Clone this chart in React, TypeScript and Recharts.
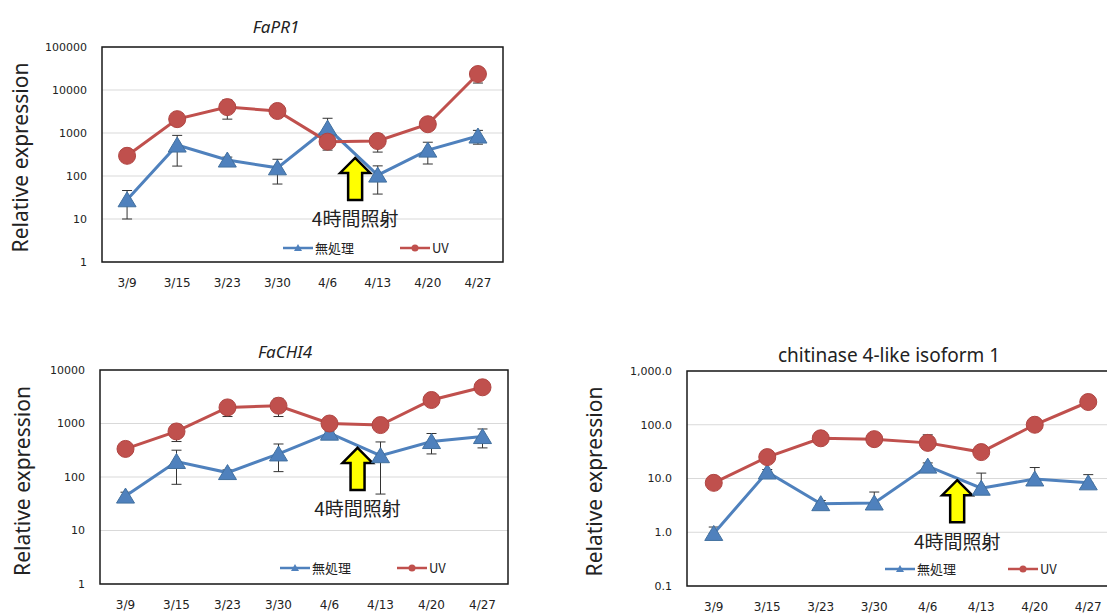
import React from 'react';
import { LineChart, Line, XAxis, YAxis, CartesianGrid, ErrorBar, ReferenceDot, ReferenceArea, Legend } from 'recharts';

const dates = ['3/9', '3/15', '3/23', '3/30', '4/6', '4/13', '4/20', '4/27'];
const seriesNames = ['無処理', 'UV'];

// FaPR1
const pr1Control = [28, 525, 235, 155, 1300, 105, 400, 850];
const pr1ControlSd = [18, 355, 40, 90, 900, 67, 210, 300];
const pr1Uv = [295, 2100, 4000, 3250, 630, 650, 1600, 23500];
const pr1UvSd = [60, 400, 1900, 950, 100, 290, 300, 9000];

// FaCHI4
const chi4Control = [44, 195, 121, 270, 660, 250, 460, 570];
const chi4ControlSd = [8, 122, 15, 144, 60, 202, 190, 220];
const chi4Uv = [335, 710, 2000, 2150, 1000, 935, 2750, 4750];
const chi4UvSd = [40, 250, 650, 800, 80, 60, 200, 300];

// chitinase 4-like isoform 1 (plus-only error bars)
const chitControl = [0.95, 13.2, 3.4, 3.5, 17, 6.6, 9.8, 8.3];
const chitControlSd = [0.3, 1.5, 0.5, 2.1, 2.5, 6, 6.2, 3.5];
const chitUv = [8.3, 25, 56, 54, 46, 31, 100, 265];
const chitUvSd = [1, 3, 8, 6, 19, 4, 10, 30];

const BLUE = '#4f81bd';
const RED = '#c0504d';
const INK = '#222';
const FONT = "'Noto Sans', 'Noto Sans CJK JP', sans-serif";
const CJK = "'Noto Sans CJK JP', 'Noto Sans', sans-serif";
const TICK_FONT = "'DejaVu Sans', sans-serif";

const lastIndex = dates.length - 1;
const xTicks = dates.map((_, i) => i);
// the arrow sits between 4/6 and 4/13
const arrowX = dates.indexOf('4/6') + 0.55;

const buildRows = (control: number[], controlSd: number[], uv: number[], uvSd: number[], plusOnly: boolean) =>
  dates.map((d, i) => ({
    idx: i,
    date: d,
    control: control[i],
    uv: uv[i],
    controlErr: plusOnly ? [0, controlSd[i]] : controlSd[i],
    uvErr: plusOnly ? [0, uvSd[i]] : uvSd[i],
  }));

const renderTriangle = (p: any) => {
  const { cx, cy, index } = p;
  if (cx == null || cy == null) return <g key={`t${index}`} />;
  return (
    <polygon
      key={`t${index}`}
      points={`${cx},${cy - 8} ${cx + 9},${cy + 7} ${cx - 9},${cy + 7}`}
      fill={BLUE}
      stroke="#42709f"
      strokeWidth={1}
    />
  );
};

const ArrowMark = ({ cx, cy }: { cx: number; cy: number }) => (
  <g>
    <polygon
      points={`${cx},${cy} ${cx + 15},${cy + 15} ${cx + 7},${cy + 15} ${cx + 7},${cy + 42} ${cx - 7},${cy + 42} ${cx - 7},${cy + 15} ${cx - 15},${cy + 15}`}
      fill="#ffff00"
      stroke="#000"
      strokeWidth={2.5}
    />
    <text x={cx} y={cy + 60} textAnchor="middle" dominantBaseline="central" fontSize={19} fontFamily={CJK} fill={INK}>
      4時間照射
    </text>
  </g>
);

const LegendBox = ({ payload, gap }: { payload?: any[]; gap: number }) => {
  const items = [...(payload || [])].sort((a, b) => seriesNames.indexOf(a.value) - seriesNames.indexOf(b.value));
  return (
    <div style={{ display: 'flex', alignItems: 'center', fontFamily: CJK, fontSize: 13, color: INK, whiteSpace: 'nowrap' }}>
      {items.map((item, i) => {
        const isControl = item.value === seriesNames[0];
        return (
          <div key={item.value} style={{ display: 'flex', alignItems: 'center', marginRight: i === 0 ? gap : 0 }}>
            <svg width={30} height={12}>
              <line x1={0} x2={30} y1={6} y2={6} stroke={isControl ? BLUE : RED} strokeWidth={2.5} />
              {isControl ? <polygon points="15,2 19,9 11,9" fill={BLUE} /> : <circle cx={15} cy={6} r={3.5} fill={RED} />}
            </svg>
            <span style={{ marginLeft: 2 }}>{item.value}</span>
          </div>
        );
      })}
    </div>
  );
};

type Panel = {
  title: string;
  italic: boolean;
  titleSize: number;
  left: number;
  top: number;
  width: number;
  height: number;
  plotLeft: number;
  plotRight: number;
  plotTop: number;
  plotBottom: number;
  xAxisHeight: number;
  titleX: number;
  titleY: number;
  rows: any[];
  yDomain: [number, number];
  yTicks: number[];
  yFormat: (v: number) => string;
  yTitleX: number;
  yTitleDy: number;
  arrowValue: number;
  legendLeft: number;
  legendTop: number;
  legendGap: number;
};

const panels: Panel[] = [
  {
    title: 'FaPR1',
    italic: true,
    titleSize: 17,
    left: 0,
    top: 0,
    width: 520,
    height: 300,
    plotLeft: 102,
    plotRight: 503,
    plotTop: 47,
    plotBottom: 262,
    xAxisHeight: 30,
    titleX: 276,
    titleY: 27,
    rows: buildRows(pr1Control, pr1ControlSd, pr1Uv, pr1UvSd, false),
    yDomain: [1, 100000],
    yTicks: [1, 10, 100, 1000, 10000, 100000],
    yFormat: (v) => String(v),
    yTitleX: 20,
    yTitleDy: 3,
    arrowValue: 263,
    legendLeft: 283,
    legendTop: 238,
    legendGap: 46,
  },
  {
    title: 'FaCHI4',
    italic: true,
    titleSize: 17,
    left: 0,
    top: 300,
    width: 530,
    height: 315,
    plotLeft: 100,
    plotRight: 508,
    plotTop: 70,
    plotBottom: 284,
    xAxisHeight: 31,
    titleX: 285,
    titleY: 52,
    rows: buildRows(chi4Control, chi4ControlSd, chi4Uv, chi4UvSd, false),
    yDomain: [1, 10000],
    yTicks: [1, 10, 100, 1000, 10000],
    yFormat: (v) => String(v),
    yTitleX: 22,
    yTitleDy: 4,
    arrowValue: 350,
    legendLeft: 280,
    legendTop: 258,
    legendGap: 46,
  },
  {
    title: 'chitinase 4-like isoform 1',
    italic: false,
    titleSize: 19,
    left: 560,
    top: 300,
    width: 560,
    height: 315,
    plotLeft: 127,
    plotRight: 555,
    plotTop: 71,
    plotBottom: 286,
    xAxisHeight: 29,
    titleX: 329,
    titleY: 55,
    rows: buildRows(chitControl, chitControlSd, chitUv, chitUvSd, true),
    yDomain: [0.1, 1000],
    yTicks: [0.1, 1, 10, 100, 1000],
    yFormat: (v) => v.toLocaleString('en-US', { minimumFractionDigits: 1, maximumFractionDigits: 1 }),
    yTitleX: 34,
    yTitleDy: 3,
    arrowValue: 9.3,
    legendLeft: 325,
    legendTop: 259,
    legendGap: 52,
  },
];

const ChartPanel = ({ cfg }: { cfg: Panel }) => {
  const yTitle = (p: any) => {
    const vb = p.viewBox || { x: 0, y: 0, height: 0 };
    const x = vb.x + cfg.yTitleX;
    const y = vb.y + vb.height / 2 + cfg.yTitleDy;
    return (
      <text x={x} y={y} transform={`rotate(-90, ${x}, ${y})`} textAnchor="middle" dominantBaseline="central" fontSize={21} fontFamily={FONT} fill={INK}>
        Relative expression
      </text>
    );
  };
  return (
    <div style={{ position: 'absolute', left: cfg.left, top: cfg.top, width: cfg.width, height: cfg.height }}>
      <LineChart
        width={cfg.width}
        height={cfg.height}
        data={cfg.rows}
        margin={{ top: cfg.plotTop, right: cfg.width - cfg.plotRight, bottom: cfg.height - cfg.plotBottom - cfg.xAxisHeight, left: 0 }}
      >
        <CartesianGrid vertical={false} stroke="#d9d9d9" strokeWidth={1} />
        <XAxis
          dataKey="idx"
          type="number"
          domain={[-0.5, lastIndex + 0.5]}
          allowDataOverflow
          ticks={xTicks}
          tickFormatter={(i: number) => dates[i] ?? ''}
          height={cfg.xAxisHeight}
          interval={0}
          tickLine={false}
          axisLine={false}
          tickMargin={10}
          tick={{ fontSize: 12, fill: INK, fontFamily: TICK_FONT }}
        />
        <YAxis
          scale="log"
          type="number"
          domain={cfg.yDomain}
          ticks={cfg.yTicks}
          interval={0}
          allowDataOverflow
          width={cfg.plotLeft}
          tickLine={false}
          axisLine={false}
          tickMargin={9}
          tickFormatter={cfg.yFormat}
          tick={{ fontSize: 11, fill: INK, fontFamily: TICK_FONT }}
          label={yTitle}
        />
        {/* plot frame */}
        <ReferenceArea
          x1={-0.5}
          x2={lastIndex + 0.5}
          y1={cfg.yDomain[0]}
          y2={cfg.yDomain[1]}
          fill="#fff"
          fillOpacity={0}
          stroke="#1a1a1a"
          strokeWidth={1.5}
          ifOverflow="visible"
        />
        <Line
          type="linear"
          dataKey="control"
          name={seriesNames[0]}
          stroke={BLUE}
          strokeWidth={3}
          dot={renderTriangle}
          activeDot={false}
          isAnimationActive={false}
        >
          <ErrorBar dataKey="controlErr" width={5} stroke="#333" strokeWidth={1} direction="y" isAnimationActive={false} />
        </Line>
        <Line
          type="linear"
          dataKey="uv"
          name={seriesNames[1]}
          stroke={RED}
          strokeWidth={3}
          dot={{ r: 8.5, fill: RED, stroke: '#b04542', strokeWidth: 1 }}
          activeDot={false}
          isAnimationActive={false}
        >
          <ErrorBar dataKey="uvErr" width={5} stroke="#333" strokeWidth={1} direction="y" isAnimationActive={false} />
        </Line>
        <ReferenceDot
          x={arrowX}
          y={cfg.arrowValue}
          ifOverflow="visible"
          shape={(p: any) => <ArrowMark cx={p.cx} cy={p.cy} />}
        />
        <Legend
          layout="horizontal"
          verticalAlign="middle"
          align="center"
          wrapperStyle={{ left: cfg.legendLeft, top: cfg.legendTop, width: 'auto', height: 'auto' }}
          content={(p: any) => <LegendBox payload={p.payload} gap={cfg.legendGap} />}
        />
      </LineChart>
      <div
        style={{
          position: 'absolute',
          left: cfg.titleX - 200,
          width: 400,
          top: cfg.titleY - 12,
          lineHeight: '24px',
          textAlign: 'center',
          fontFamily: FONT,
          fontSize: cfg.titleSize,
          fontStyle: cfg.italic ? 'italic' : 'normal',
          color: INK,
        }}
      >
        {cfg.title}
      </div>
    </div>
  );
};

export default function App() {
  return (
    <div style={{ position: 'fixed', left: 0, top: 0, width: 1107, height: 615, overflow: 'hidden', background: '#fff' }}>
      {panels.map((cfg) => (
        <ChartPanel key={cfg.title} cfg={cfg} />
      ))}
    </div>
  );
}
